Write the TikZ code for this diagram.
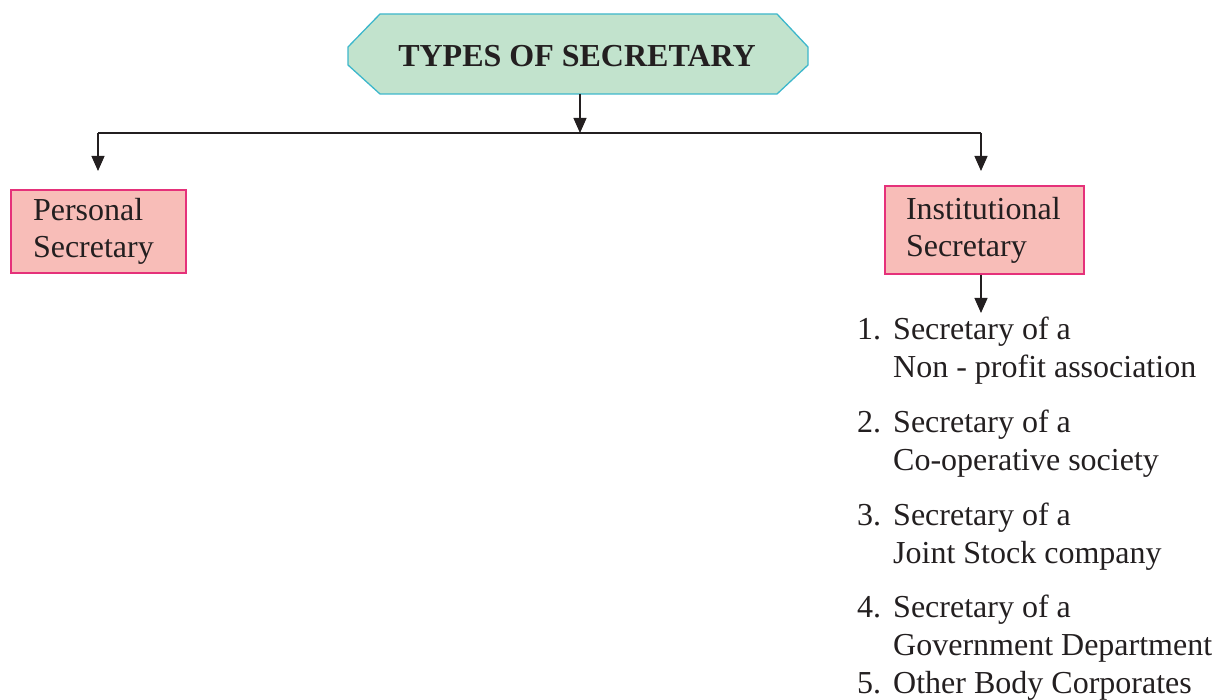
\documentclass[tikz,border=0pt]{standalone}
\usepackage{fontspec}
\setmainfont{Liberation Serif}
\usetikzlibrary{arrows.meta}
\definecolor{tfill}{HTML}{C2E3CD}
\definecolor{tdraw}{HTML}{3DB7CB}
\definecolor{pfill}{HTML}{F8BDB8}
\definecolor{pdraw}{HTML}{E5317A}
\definecolor{ink}{HTML}{231F20}
\tikzset{
  conn/.style={draw=ink, line width=1.2pt},
  arr/.style={conn, -{Triangle[width=13pt,length=15pt]}},
  pbox/.style={draw=pdraw, fill=pfill, line width=1.3pt, inner sep=0pt, align=left, text=ink,
     font=\fontsize{32}{37}\selectfont},
  item/.style={anchor=base west, inner sep=0pt, align=left, text=ink, font=\fontsize{32}{38}\selectfont},
}
\begin{document}
\begin{tikzpicture}[x=1pt,y=-1pt]
\useasboundingbox (0,0) rectangle (1229,700);
% title octagon
\draw[fill=tfill, draw=tdraw, line width=1.3pt]
  (380,14) -- (777,14) -- (808,47) -- (808,65) -- (777,94) -- (380,94) -- (348,65) -- (348,47) -- cycle;
\node[text=ink, font=\fontsize{32}{38}\selectfont\bfseries, inner sep=0pt] (title) at (577,56) {TYPES OF SECRETARY};
\coordinate (tbot) at (580,94);
\coordinate (junc) at (580,133);
\coordinate (jl) at (98,133);
\coordinate (jr) at (981,133);
\coordinate (al) at (98,171);
\coordinate (ar) at (981,171);
\draw[arr] (tbot) -- (junc);
\draw[conn] (jl) -- (jr);
\draw[arr] (jl) -- (al);
\draw[arr] (jr) -- (ar);
% boxes
\node[pbox, minimum width=175pt, minimum height=83pt, text width=131pt] (personal) at (98.5,231.5) {Personal\\Secretary};
\node[pbox, minimum width=199pt, minimum height=88pt, text width=157pt] (inst) at (984.5,230) {Institutional\\Secretary};
\coordinate (lt) at (981,313);
\draw[arr] (inst.south -| lt) -- (lt);
% list
\node[item] (n1) at (857,340) {1.};
\node[item] (i1) at (893,378) {Secretary of a\\Non - profit association};
\node[item] (n2) at (857,432) {2.};
\node[item] (i2) at (893,470) {Secretary of a\\Co-operative society};
\node[item] (n3) at (857,525) {3.};
\node[item] (i3) at (893,563) {Secretary of a\\Joint Stock company};
\node[item] (n4) at (857,617) {4.};
\node[item] (i4) at (893,655) {Secretary of a\\Government Department};
\node[item] (n5) at (857,693) {5.};
\node[item] (i5) at (893,693) {Other Body Corporates};
\end{tikzpicture}
\end{document}
